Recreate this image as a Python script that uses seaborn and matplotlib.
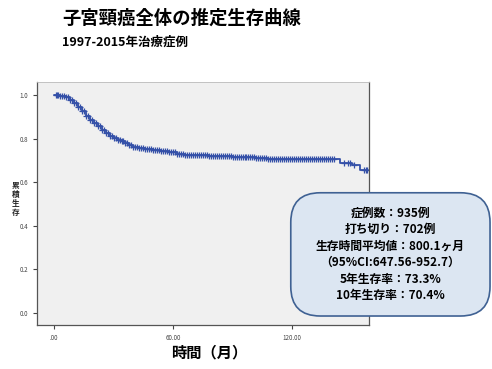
import seaborn as sns
import matplotlib.pyplot as plt
import pandas as pd
import numpy as np
from matplotlib.patches import FancyBboxPatch

sns.set_theme(style="white")
plt.rcParams['font.family'] = ['Noto Sans CJK JP', 'DejaVu Sans']
plt.rcParams['text.color'] = 'black'

# Kaplan-Meier step points (months, cumulative survival)
step_times = [0, 3, 6, 8, 10, 12, 14, 16, 18, 20, 22, 24, 26, 28, 30, 32, 34, 36, 38, 40,
              43, 46, 50, 54, 58, 62, 66, 72, 78, 84, 90, 96, 102, 108, 114, 120, 130, 140,
              144, 150, 154, 158]
step_surv = [1.0, 0.995, 0.99, 0.978, 0.962, 0.945, 0.926, 0.905, 0.888, 0.872, 0.857, 0.842,
             0.828, 0.814, 0.804, 0.796, 0.789, 0.779, 0.769, 0.762, 0.757, 0.752, 0.748, 0.744,
             0.738, 0.732, 0.727, 0.724, 0.721, 0.719, 0.717, 0.714, 0.712, 0.709, 0.707,
             0.706, 0.706, 0.706, 0.69, 0.678, 0.658, 0.658]

# censored cases (months)
censor_times = [1, 1.5, 2, 3, 4, 5, 6, 7, 8, 9, 10, 11, 12, 13, 14, 15, 16, 17, 18, 19, 20,
                21, 22, 23, 24, 25, 26, 27, 28, 29, 30, 31, 32, 33, 34, 35, 36, 37, 38, 39,
                40, 41, 42, 43, 44, 45, 46, 47, 48, 49, 50, 51, 52, 53, 54, 55, 56, 57, 58,
                59, 60, 61, 62, 63, 64, 65, 66, 67, 68, 69, 70, 71, 72, 73, 74, 75, 76, 77,
                78, 79, 80, 81, 82, 83, 84, 85, 86, 87, 88, 89, 90, 91, 92, 93, 94, 95, 96,
                97, 98, 99, 100, 101, 102, 103, 104, 105, 106, 107, 108, 109, 110, 111, 112,
                113, 114, 115, 116, 117, 118, 119, 120, 121, 122, 123, 124, 125, 126, 127,
                128, 129, 130, 131, 132, 133, 134, 135, 136, 137, 138, 139, 140, 141, 146,
                148, 149, 151, 156, 157, 157.5]

x_ticks = [0, 60, 120]
x_tick_labels = [".00", "60.00", "120.00"]
y_ticks = [0.0, 0.2, 0.4, 0.6, 0.8, 1.0]

stats_lines = ["症例数：935例", "打ち切り：702例", "生存時間平均値：800.1ヶ月",
               "（95%CI:647.56-952.7）", "5年生存率：73.3%", "10年生存率：70.4%"]

km = pd.DataFrame({"t": step_times, "s": step_surv})
idx = np.searchsorted(step_times, censor_times, side="right") - 1
cens = pd.DataFrame({"t": censor_times, "s": np.array(step_surv)[idx]})

fig = plt.figure(figsize=(4.92, 3.69), dpi=100)
ax = fig.add_axes([0.0752, 0.1192, 0.675, 0.6585])
ax.set_facecolor("#f0f0f0")

blue = "#3450a8"
sns.lineplot(data=km, x="t", y="s", drawstyle="steps-post", color=blue, lw=1.3, ax=ax)
sns.scatterplot(data=cens, x="t", y="s", marker="+", s=16, color=blue, linewidth=0.9, ax=ax)

ax.set_xlim(-8.6, 158.8)
ax.set_ylim(-0.055, 1.06)
ax.set_xticks(x_ticks)
ax.set_xticklabels(x_tick_labels)
ax.set_yticks(y_ticks)
ax.set_yticklabels([f"{v:.1f}" for v in y_ticks])
ax.tick_params(axis="both", labelsize=4.5, colors="#444444", length=3, width=0.8,
               direction="out", left=True, bottom=True)
for sp in ["left", "bottom", "right"]:
    ax.spines[sp].set_color("#555555")
    ax.spines[sp].set_linewidth(0.9)
ax.spines["top"].set_color("#bbbbbb")
ax.spines["top"].set_linewidth(0.6)
ax.set_xlabel("")
ax.set_ylabel("")

fig.text(0.031, 0.462, "累\n積\n生\n存", fontsize=5.5, fontweight="bold", ha="center",
         va="center", linespacing=1.0, color="#222222")
fig.text(0.425, 0.045, "時間（月）", fontsize=11, fontweight="bold", ha="center", va="center")

fig.text(0.126, 0.951, "子宮頸癌全体の推定生存曲線", fontsize=13.2, fontweight="bold",
         ha="left", va="center")
fig.text(0.126, 0.886, "1997-2015年治療症例", fontsize=9, fontweight="bold",
         ha="left", va="center")

box = FancyBboxPatch((0.591, 0.1436), 0.405, 0.334,
                     boxstyle="round,pad=0.0,rounding_size=0.06",
                     transform=fig.transFigure, facecolor="#dce6f2", edgecolor="#3f6193",
                     linewidth=1.2, mutation_aspect=492 / 369)
fig.add_artist(box)
for i, line in enumerate(stats_lines):
    fig.text(0.793, 0.423 - i * 0.045, line, fontsize=8.5, fontweight="bold",
             ha="center", va="center", color="black")

plt.savefig("out.png", dpi=100)
